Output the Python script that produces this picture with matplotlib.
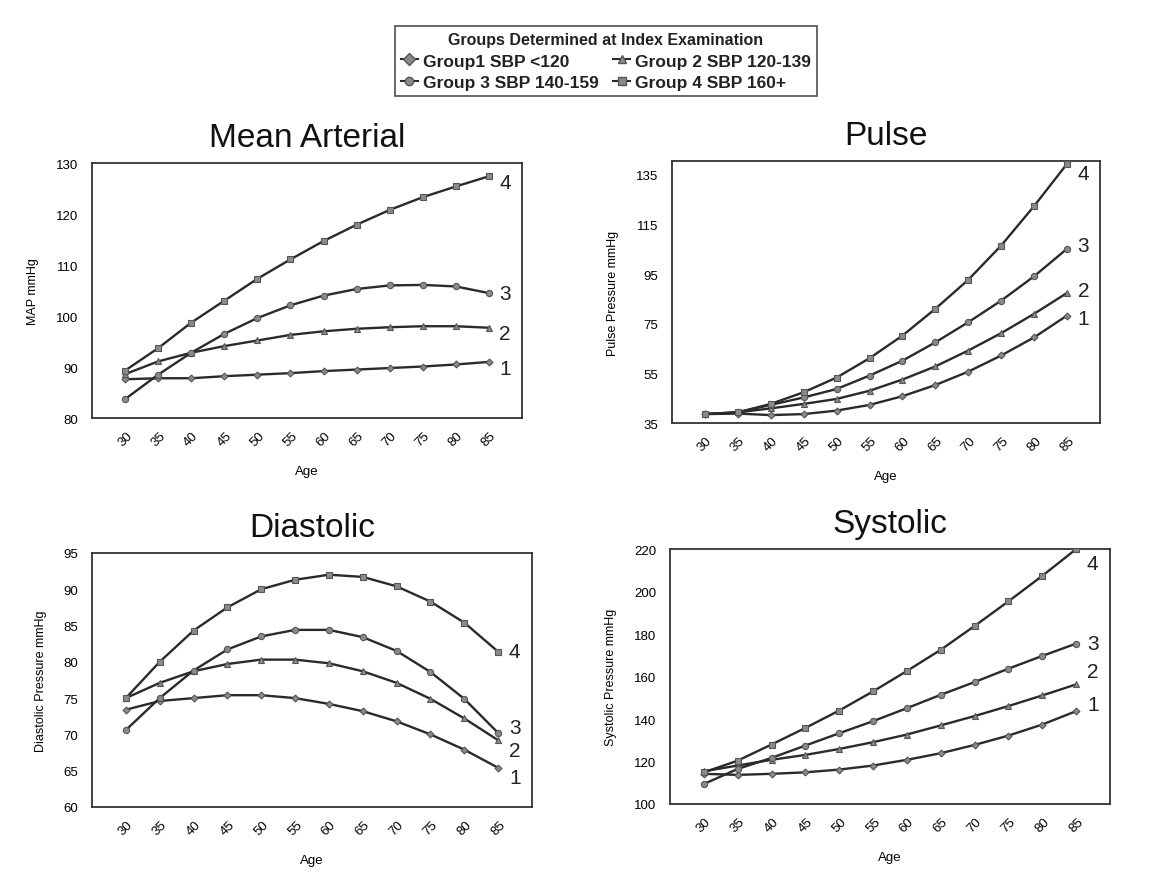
import matplotlib
matplotlib.use("Agg")
import matplotlib.pyplot as plt
from matplotlib.lines import Line2D

plt.rcParams['font.family'] = ['Liberation Sans', 'DejaVu Sans']

ages = [30, 35, 40, 45, 50, 55, 60, 65, 70, 75, 80, 85]
group_names = ["Group1 SBP <120", "Group 2 SBP 120-139", "Group 3 SBP 140-159", "Group 4 SBP 160+"]
group_ids = ["1", "2", "3", "4"]

map_g1 = [87.6, 87.8, 87.8, 88.2, 88.5, 88.8, 89.2, 89.5, 89.8, 90.1, 90.5, 91.0]
map_g2 = [88.6, 91.1, 92.8, 94.1, 95.2, 96.3, 97.0, 97.5, 97.8, 98.0, 98.0, 97.7]
map_g3 = [83.7, 88.5, 92.8, 96.5, 99.6, 102.1, 104.0, 105.3, 106.0, 106.1, 105.8, 104.5]
map_g4 = [89.3, 93.7, 98.7, 103.0, 107.3, 111.1, 114.7, 117.9, 120.8, 123.3, 125.4, 127.4]

pp_g1 = [38.6, 38.8, 38.2, 38.6, 40.0, 42.3, 45.8, 50.3, 55.7, 62.2, 69.5, 78.3]
pp_g2 = [38.6, 39.3, 40.9, 42.7, 44.7, 48.0, 52.5, 57.8, 64.2, 71.2, 79.0, 87.4]
pp_g3 = [38.6, 39.3, 42.3, 45.3, 48.7, 54.1, 60.1, 67.5, 75.6, 84.3, 94.1, 105.2]
pp_g4 = [38.6, 39.3, 42.7, 47.4, 53.3, 61.1, 70.2, 81.0, 92.7, 106.5, 122.4, 139.4]

dbp_g1 = [73.4, 74.6, 75.0, 75.4, 75.4, 75.0, 74.2, 73.2, 71.8, 70.0, 67.9, 65.4]
dbp_g2 = [75.0, 77.1, 78.7, 79.7, 80.3, 80.3, 79.8, 78.7, 77.1, 74.9, 72.2, 69.2]
dbp_g3 = [70.6, 75.0, 78.8, 81.7, 83.5, 84.4, 84.4, 83.4, 81.5, 78.6, 74.9, 70.2]
dbp_g4 = [75.0, 80.0, 84.3, 87.5, 90.0, 91.3, 92.0, 91.7, 90.4, 88.3, 85.4, 81.4]

sbp_g1 = [114.2, 113.7, 114.2, 114.9, 116.2, 118.1, 120.8, 123.9, 127.8, 132.2, 137.4, 143.7]
sbp_g2 = [115.4, 118.1, 120.8, 123.1, 125.9, 129.1, 132.7, 137.0, 141.4, 146.1, 151.1, 156.3]
sbp_g3 = [109.4, 116.5, 121.7, 127.5, 133.3, 139.0, 145.1, 151.4, 157.4, 163.7, 169.7, 175.5]
sbp_g4 = [114.9, 120.4, 128.0, 135.8, 144.0, 153.0, 162.6, 172.6, 183.8, 195.4, 207.4, 220.0]

markers = ['D', '^', 'o', 's']
msizes = [3.5, 4.5, 4.5, 4.5]
line_col = '#2a2a2a'
mark_face = '#8a8a8a'

fig = plt.figure(figsize=(11.63, 8.79), dpi=100)

panels = [
    dict(rect=[0.0791, 0.5233, 0.3697, 0.2901], title="Mean Arterial", ylabel="MAP mmHg",
         series=[map_g1, map_g2, map_g3, map_g4], ylim=(80, 130), yticks=[80, 90, 100, 110, 120, 130],
         offs=[-1.3, -1.2, 0, -1.2]),
    dict(rect=[0.5778, 0.5176, 0.3680, 0.2980], title="Pulse", ylabel="Pulse Pressure mmHg",
         series=[pp_g1, pp_g2, pp_g3, pp_g4], ylim=(35, 140.5), yticks=[35, 55, 75, 95, 115, 135],
         offs=[-1.3, 1.0, 1.3, -4.0]),
    dict(rect=[0.0791, 0.0808, 0.3783, 0.2890], title="Diastolic", ylabel="Diastolic Pressure mmHg",
         series=[dbp_g1, dbp_g2, dbp_g3, dbp_g4], ylim=(60, 95), yticks=[60, 65, 70, 75, 80, 85, 90, 95],
         offs=[-1.3, -1.4, 0.8, 0]),
    dict(rect=[0.5761, 0.0842, 0.3783, 0.2900], title="Systolic", ylabel="Systolic Pressure mmHg",
         series=[sbp_g1, sbp_g2, sbp_g3, sbp_g4], ylim=(100, 220), yticks=[100, 120, 140, 160, 180, 200, 220],
         offs=[3.0, 6.0, 0, -7.0]),
]

for p in panels:
    ax = fig.add_axes(p["rect"])
    for i, s in enumerate(p["series"]):
        ax.plot(ages, s, color=line_col, lw=1.7, marker=markers[i], ms=msizes[i],
                mfc=mark_face, mec='#555555', mew=0.8, zorder=3 + i)
        ax.text(ages[-1] + 1.6, s[-1] + p["offs"][i], group_ids[i],
                fontsize=15, color='#222222', va='center', ha='left', clip_on=False)
    ax.set_xlim(25, 90)
    ax.set_ylim(*p["ylim"])
    ax.set_yticks(p["yticks"])
    ax.set_xticks(ages)
    ax.set_xticklabels([str(a) for a in ages], rotation=45, ha='center', va='top', fontsize=9.5)
    ax.tick_params(axis='x', length=0, pad=8)
    ax.tick_params(axis='y', length=0, labelsize=9.5, pad=10)
    for sp in ax.spines.values():
        sp.set_color('#333333')
        sp.set_linewidth(1.3)
    ax.set_xlabel("Age", fontsize=9.5, labelpad=12)
    ax.set_ylabel(p["ylabel"], fontsize=9, labelpad=12)
    ax.set_title(p["title"], fontsize=24, pad=12, color='#111111')

handles = [Line2D([0], [0], color=line_col, lw=1.5, marker=markers[i], ms=6,
                  mfc=mark_face, mec='#555555') for i in range(4)]
order = [0, 2, 1, 3]
leg = fig.legend([handles[i] for i in order], [group_names[i] for i in order],
                 ncol=2, loc='center', bbox_to_anchor=(606 / 1163, 1 - 62 / 879),
                 title="Groups Determined at Index Examination",
                 fontsize=12.5, title_fontsize=11.5, frameon=True, fancybox=False,
                 edgecolor='#222222', handlelength=1.0, handletextpad=0.3,
                 columnspacing=0.8, borderpad=0.35, labelspacing=0.35)
leg.get_frame().set_linewidth(1.2)
leg.get_title().set_fontweight('bold')
leg.get_title().set_color('#222222')
for t in leg.get_texts():
    t.set_fontweight('bold')
    t.set_color('#222222')

fig.savefig("out.png", dpi=100)
